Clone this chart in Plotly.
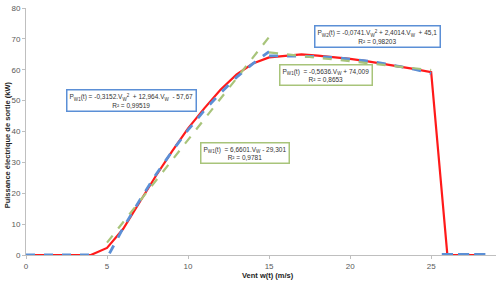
import plotly.graph_objects as go

# Measured output power (red line)
wind = list(range(0, 29))
power = [0, 0, 0, 0, 0, 2.3, 8.5, 17, 25.5, 33.5, 41, 47.5, 53.5, 58.5, 62, 64,
         64.5, 65, 64.6, 64.1, 63.5, 62.8, 62, 61.2, 60.2, 59.2, 0, 0, 0]

# Polynomial fits (blue dashed), segments separated by None
poly_x = [0, 4, None,
          5.15, 6, 7, 8, 9, 10, 11, 12, 13, 14, 15, None,
          15, 16, 17, 18, 19, 20, 21, 22, 23, 24, 25]
poly_y = [0, 0, None,
          0.5, 8.8, 17.6, 25.9, 33.5, 40.5, 46.8, 52.5, 57.6, 62.0, 65.9, None,
          64.5, 64.5, 64.5, 64.3, 64.0, 63.5, 62.9, 62.1, 61.1, 60.1, 58.8]
# blue marks after cut-out
cut_x = [26, 27, 28]
cut_y = [0, 0, 0]

# Linear fits (green dashed)
lin_x = [5, 15, None, 15, 25]
lin_y = [4.0, 70.6, None, 65.6, 59.9]

tick_vals_x = [0, 5, 10, 15, 20, 25]
tick_vals_y = [0, 10, 20, 30, 40, 50, 60, 70, 80]

FONT = "Liberation Sans Narrow, Liberation Sans, Arial"
BLUE = "#5b8fd6"
GREEN = "#a8c47a"

L, R, T, B = 26, 4, 5, 30
PW, PH = 500 - L - R, 285 - T - B

fig = go.Figure()
fig.add_trace(go.Scatter(x=wind, y=power, mode="lines",
                         line=dict(color="#ff1a1a", width=2.2), showlegend=False))
fig.add_trace(go.Scatter(x=poly_x, y=poly_y, mode="lines",
                         line=dict(color=BLUE, width=2.8, dash="dash"), showlegend=False))
fig.add_trace(go.Scatter(x=cut_x, y=cut_y, mode="markers",
                         marker=dict(symbol="line-ew", size=8,
                                     line=dict(color=BLUE, width=4)), showlegend=False))
fig.add_trace(go.Scatter(x=lin_x, y=lin_y, mode="lines",
                         line=dict(color=GREEN, width=2.2, dash="dash"), showlegend=False))

fig.update_xaxes(range=[0, 29], tickvals=tick_vals_x, showgrid=False, zeroline=False,
                 showline=True, linecolor="#bfbfbf", linewidth=1, ticks="outside",
                 ticklen=3, tickcolor="#bfbfbf", tickfont=dict(size=8, color="#595959", family=FONT))
fig.update_yaxes(range=[0, 80], tickvals=tick_vals_y, showgrid=False, zeroline=False,
                 showline=True, linecolor="#bfbfbf", linewidth=1, ticks="outside",
                 ticklen=3, tickcolor="#bfbfbf", tickfont=dict(size=8, color="#595959", family=FONT))

def box(x, y, text, color):
    fig.add_annotation(x=x, y=y, xref="x", yref="y", text=text, showarrow=False,
                       font=dict(size=6.5, color="#333333", family=FONT),
                       bordercolor=color, borderwidth=1.5, borderpad=2,
                       bgcolor="white", align="center")

box(6.5, 50.2, "P<sub>W1</sub>(t) = -0,3152.V<sub>W</sub><sup>2</sup>  + 12,964.V<sub>W</sub>  - 57,67<br>R² = 0,99519", BLUE)
box(21.7, 70.7, "P<sub>W2</sub>(t) = -0,0741.V<sub>W</sub><sup>2</sup> + 2,4014.V<sub>W</sub>  + 45,1<br>R² = 0,98203", BLUE)
box(18.5, 58.2, "P<sub>W1</sub>(t)  = -0,5636.V<sub>W</sub> + 74,009<br>R² = 0,8653", GREEN)
box(13.5, 33.0, "P<sub>W1</sub>(t)  = 6,6601.V<sub>W</sub> - 29,301<br>R² = 0,9781", GREEN)

fig.add_annotation(x=(268 - L) / PW, y=-(276 - (285 - B)) / PH, xref="paper", yref="paper",
                   xanchor="center", yanchor="middle", text="<b>Vent w(t) (m/s)</b>",
                   showarrow=False, font=dict(size=7.5, color="#222222", family=FONT))
fig.add_annotation(x=(7 - L) / PW, y=((285 - B) - 144) / PH, xref="paper", yref="paper",
                   xanchor="center", yanchor="middle", textangle=-90,
                   text="<b>Puissance électrique de sortie (kW)</b>",
                   showarrow=False, font=dict(size=7.5, color="#222222", family=FONT))

fig.update_layout(width=500, height=285, margin=dict(l=L, r=R, t=T, b=B),
                  plot_bgcolor="white", paper_bgcolor="white")
fig.write_html("out.html")
